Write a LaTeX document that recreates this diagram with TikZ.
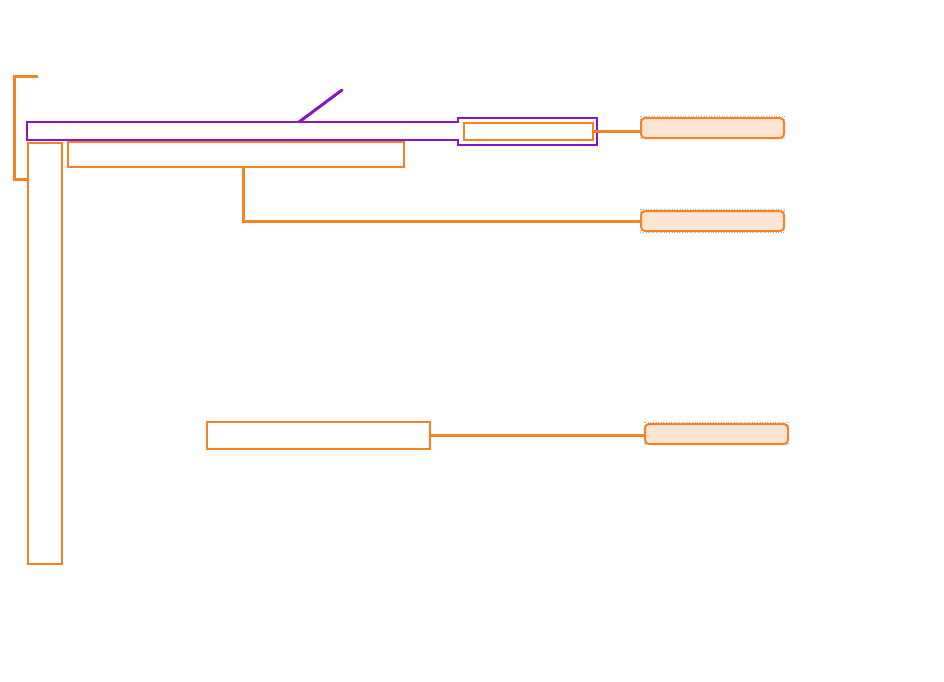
\documentclass[tikz,border=0pt]{standalone}
\usetikzlibrary{calc}
\definecolor{orng}{RGB}{245,130,35}
\definecolor{purp}{RGB}{140,20,200}
\definecolor{peach}{RGB}{253,229,211}
\begin{document}
\begin{tikzpicture}[x=1pt,y=-1pt,
  obox/.style={draw=orng,line width=2pt,inner sep=0pt,anchor=north west,rectangle},
  cbox/.style={draw=orng,fill=peach,line width=2pt,inner sep=0pt,anchor=north west,rounded corners=4pt,minimum width=143pt,minimum height=20pt},
  conn/.style={draw=orng,line width=3pt},
  ghost/.style={draw=gray!60,dotted,line width=0.6pt}]
\useasboundingbox (0,0) rectangle (944,681);
% bracket
\draw[orng,line width=3pt] (38,76) -- (14,76) -- (14,179) -- (28,179);
% purple outline
\draw[purp,line width=2pt] (27,122) -- (458,122) -- (458,118) -- (597,118) -- (597,145) -- (458,145) -- (458,140) -- (27,140) -- cycle;
\draw[purp,line width=3pt,line cap=round] (299,122) -- (342,90);
% boxes
\node[obox,minimum width=129pt,minimum height=17pt] (inner) at (463,122) {};
\node[obox,minimum width=34pt,minimum height=421pt] (col) at (27,142) {};
\node[obox,minimum width=336pt,minimum height=25pt] (bar) at (67,141) {};
\node[obox,minimum width=223pt,minimum height=27pt] (low) at (206,421) {};
% comment boxes
\draw[ghost] (640,116) rectangle (784,138);
\draw[ghost] (640,209) rectangle (784,232);
\draw[ghost] (644,422) rectangle (788,444);
\node[cbox] (c1) at (640,117) {};
\node[cbox] (c2) at (640,210) {};
\node[cbox] (c3) at (644,423) {};
% connectors
\coordinate (j2) at (243,0);
\draw[conn] (inner.east) -- (inner.east -| c1.west);
\draw[conn] (j2 |- bar.south) |- (c2.west);
\draw[conn] (low.east) -- (low.east -| c3.west);
\end{tikzpicture}
\end{document}
